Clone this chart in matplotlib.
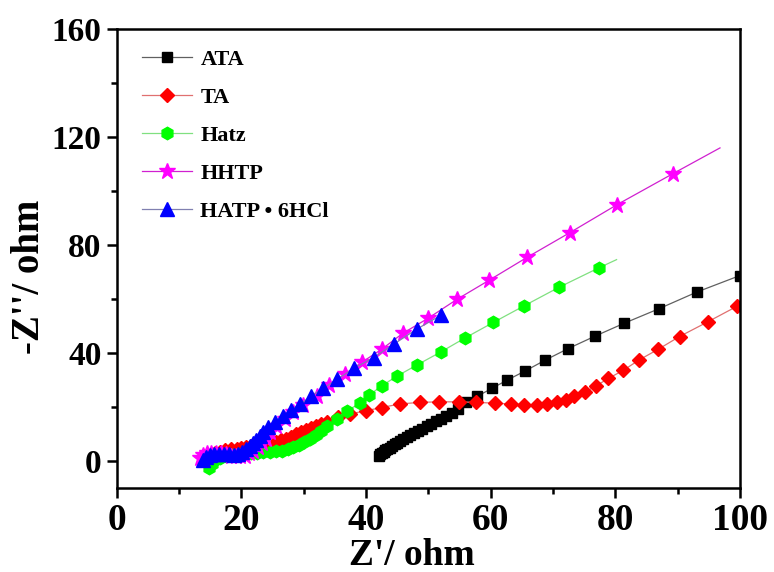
import matplotlib
matplotlib.use('Agg')
import matplotlib.pyplot as plt
from matplotlib.lines import Line2D
from matplotlib.ticker import MultipleLocator

plt.rcParams['font.family'] = ['Liberation Serif', 'DejaVu Serif']
plt.rcParams['font.weight'] = 'bold'

# Nyquist data (Z' , -Z'')
ata_x = [42.0, 42.2, 42.5, 42.8, 43.1, 43.4, 43.8, 44.2, 44.6, 45.0, 45.5, 46.0, 46.5, 47.1,
         47.7, 48.3, 49.0, 49.7, 50.4, 51.2, 52.0, 52.9, 53.8, 54.8, 56.0, 57.8, 60.2, 62.6,
         65.5, 68.7, 72.4, 76.7, 81.4, 87.0, 93.1, 100.0, 102.0]
ata_y = [2.0, 2.4, 2.9, 3.4, 3.9, 4.4, 4.9, 5.5, 6.1, 6.7, 7.4, 8.1, 8.8, 9.5,
         10.3, 11.1, 11.9, 12.8, 13.7, 14.7, 15.7, 16.8, 17.9, 19.3, 21.7, 23.9, 26.9, 29.9,
         33.3, 37.3, 41.6, 46.2, 51.0, 56.4, 62.6, 68.7, 70.6]

ta_x = [14.5, 15.0, 15.7, 16.5, 17.4, 18.3, 19.2, 20.0, 20.8, 21.6, 22.4, 23.2, 24.0, 24.8,
        25.6, 26.4, 27.2, 28.0, 28.8, 29.6, 30.4, 31.2, 32.0, 32.8, 33.7, 35.5, 37.4, 40.0,
        42.5, 45.4, 48.6, 51.7, 54.9, 57.7, 60.7, 63.2, 65.4, 67.4, 69.0, 70.6, 72.1, 73.4,
        75.2, 76.9, 78.9, 81.3, 83.8, 86.9, 90.3, 94.8, 99.6, 102.0]
ta_y = [1.0, 2.0, 2.8, 3.4, 3.9, 4.3, 4.6, 4.9, 5.2, 5.5, 5.8, 6.1, 6.4, 6.8,
        7.2, 7.7, 8.3, 9.0, 9.8, 10.6, 11.4, 12.2, 13.0, 13.8, 14.6, 16.1, 17.4, 18.6,
        19.8, 21.1, 21.7, 21.9, 21.9, 21.7, 21.4, 21.1, 20.8, 20.8, 21.1, 21.7, 22.7, 23.9,
        25.6, 27.8, 30.6, 33.6, 37.4, 41.4, 46.1, 51.5, 57.4, 60.2]

hatz_x = [14.8, 15.2, 15.8, 16.6, 17.5, 18.5, 19.5, 20.5, 21.5, 22.5, 23.5, 24.5, 25.5, 26.5,
          27.4, 28.3, 29.2, 30.1, 31.0, 31.9, 32.8, 33.7, 35.3, 36.9, 39.0, 40.5, 42.5, 45.0,
          48.2, 52.0, 55.9, 60.4, 65.3, 71.0, 77.4, 80.2]
hatz_y = [-2.6, -1.2, 0.2, 1.2, 1.8, 2.2, 2.5, 2.8, 3.0, 3.1, 3.2, 3.3, 3.5, 3.8,
          4.3, 5.0, 5.9, 7.0, 8.3, 9.7, 11.2, 12.8, 15.5, 18.6, 21.3, 24.4, 27.8, 31.5,
          35.6, 40.4, 45.6, 51.3, 57.4, 64.4, 71.6, 74.6]

hhtp_x = [13.3, 13.8, 14.4, 15.1, 15.9, 16.7, 17.5, 18.3, 19.1, 19.8, 20.5, 21.2, 21.9, 22.6,
          23.3, 24.0, 24.6, 25.6, 27.0, 28.3, 29.9, 32.1, 34.1, 36.6, 39.4, 42.5, 45.9, 49.9,
          54.6, 59.7, 65.8, 72.7, 80.3, 89.2, 96.8]
hhtp_y = [1.2, 2.2, 2.8, 3.0, 3.0, 2.8, 2.4, 2.0, 1.8, 1.7, 2.0, 2.8, 3.8, 5.0,
          6.5, 8.3, 10.7, 13.0, 15.5, 18.1, 20.7, 24.0, 28.1, 32.2, 36.7, 41.4, 47.3, 52.8,
          59.9, 66.9, 75.4, 84.6, 95.0, 106.4, 116.0]

hatp_x = [13.8, 14.3, 14.9, 15.6, 16.4, 17.2, 18.0, 18.8, 19.5, 20.1, 20.7, 21.3, 21.9, 22.4,
          22.9, 23.4, 24.3, 25.4, 26.6, 27.9, 29.4, 31.1, 33.1, 35.4, 38.0, 41.2, 44.4, 48.1,
          52.1]
hatp_y = [0.5, 1.6, 2.3, 2.6, 2.7, 2.6, 2.4, 2.2, 2.5, 3.3, 4.3, 5.4, 6.6, 7.8,
          9.2, 10.8, 12.5, 14.5, 16.7, 18.8, 21.0, 23.9, 26.9, 30.3, 34.3, 38.3, 43.2, 48.8,
          54.1]

labels = ['ATA', 'TA', 'Hatz', 'HHTP', 'HATP \u2022 6HCl']

fig = plt.figure(figsize=(7.74, 5.72), dpi=100)
ax = fig.add_axes([0.151, 0.147, 0.805, 0.802])

# (x, y, marker color, line color, marker, size, markevery)
series = [
    (ata_x, ata_y, '#000000', '#606060', 's', 7.5, slice(0, len(ata_x) - 1)),
    (ta_x, ta_y, '#ff0000', '#e07070', 'D', 7.0, slice(0, len(ta_x) - 1)),
    (hatz_x, hatz_y, '#00ff00', '#80e080', 'h', 9.0, slice(0, len(hatz_x) - 1)),
    (hhtp_x, hhtp_y, '#ff00ff', '#d020d0', '*', 12.0, slice(0, len(hhtp_x) - 1)),
    (hatp_x, hatp_y, '#0000ff', '#8080b0', '^', 9.5, None),
]

handles = []
for (x, y, mc, lc, mk, ms, me), lab in zip(series, labels):
    ax.plot(x, y, color=lc, lw=0.9, marker=mk, ms=ms, mfc=mc, mec=mc,
            markevery=me)
    handles.append(Line2D([], [], color=lc, lw=0.9, marker=mk, ms=ms,
                          mfc=mc, mec=mc))

ax.set_xlim(0, 100)
ax.set_ylim(-10, 160)
ax.xaxis.set_major_locator(MultipleLocator(20))
ax.xaxis.set_minor_locator(MultipleLocator(10))
ax.yaxis.set_major_locator(MultipleLocator(40))
ax.yaxis.set_minor_locator(MultipleLocator(20))

for sp in ax.spines.values():
    sp.set_linewidth(1.8)
ax.tick_params(which='major', direction='out', length=7, width=1.8)
ax.tick_params(which='minor', direction='out', length=4, width=1.8)
ax.tick_params(axis='x', which='major', labelsize=27, pad=4)
ax.tick_params(axis='y', which='major', labelsize=24, pad=4)
for t in ax.get_xticklabels() + ax.get_yticklabels():
    t.set_fontweight('bold')

ax.set_xlabel("Z'/ ohm", fontsize=27, fontweight='bold')
ax.set_ylabel("-Z''/ ohm", fontsize=28, fontweight='bold')
ax.xaxis.set_label_coords(0.473, -0.11)
ax.yaxis.set_label_coords(-0.11, 0.46)

ax.legend(handles, labels, loc='upper left', bbox_to_anchor=(0.009, 1.0),
          frameon=False, prop={'weight': 'bold', 'size': 16},
          numpoints=1, handlelength=2.25, handletextpad=0.36, labelspacing=0.79)

fig.savefig('out.png', dpi=100)
